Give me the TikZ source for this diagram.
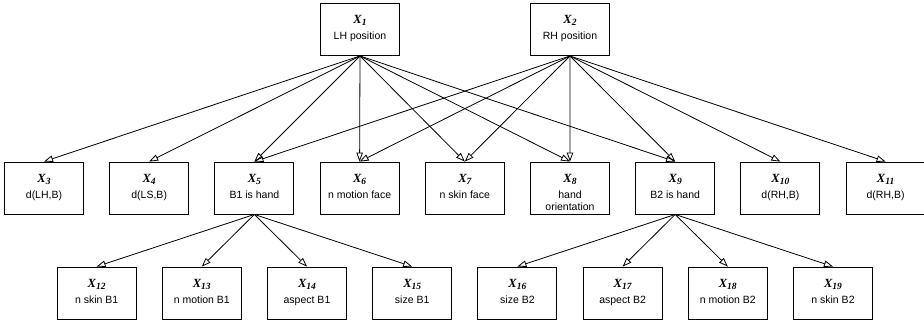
\documentclass[tikz,border=0pt]{standalone}
\usepackage{fontspec}
\setmainfont{Liberation Sans}
\newfontfamily\idfont{Liberation Serif}
\usetikzlibrary{arrows.meta}

% variable name X_i, bold italic serif
\newcommand{\xid}[1]{{\idfont\bfseries\itshape\fontsize{12.5}{13}\selectfont X\raisebox{-0.35ex}{\fontsize{9.5}{10}\selectfont #1}}}
% box content: name on top, description below
\newcommand{\varcell}[2]{\begin{tabular}[t]{@{}c@{}}\xid{#1}\\[4pt]#2\end{tabular}}

\begin{document}
\begin{tikzpicture}[x=1pt, y=-1pt,
  varbox/.style={draw, line width=.9pt, minimum width=79pt, inner xsep=2pt, inner ysep=0pt,
    text height=20pt, text depth=32pt, font=\fontsize{10.5}{12}\selectfont},
  edge/.style={line width=.8pt, -{Triangle[open,length=9pt,width=6.5pt]}}]
\useasboundingbox (0,0) rectangle (924,322);

% parents
\node[varbox] (x1) at (360,29.5) {\varcell{1}{LH position}};
\node[varbox] (x2) at (570,29.5) {\varcell{2}{RH position}};

% middle row
\foreach \n/\lbl [count=\k from 0] in {3/{d(LH,B)}, 4/{d(LS,B)}, 5/{B1 is hand},
    6/{n motion face}, 7/{n skin face}, 8/{hand\\orientation}, 9/{B2 is hand},
    10/{d(RH,B)}, 11/{d(RH,B)}}
  \node[varbox] (x\n) at ({44+\k*105.2},188) {\varcell{\n}{\lbl}};

% bottom row
\foreach \n/\lbl [count=\k from 0] in {12/{n skin B1}, 13/{n motion B1}, 14/{aspect B1},
    15/{size B1}, 16/{size B2}, 17/{aspect B2}, 18/{n motion B2}, 19/{n skin B2}}
  \node[varbox] (x\n) at ({96.6+\k*105.2},293) {\varcell{\n}{\lbl}};

% edges
\foreach \c in {3,...,9}
  \draw[edge] (x1.south) -- (x\c.north);
\foreach \c in {5,...,11}
  \draw[edge] (x2.south) -- (x\c.north);
\foreach \c in {12,...,15}
  \draw[edge] (x5.south) -- (x\c.north);
\foreach \c in {16,...,19}
  \draw[edge] (x9.south) -- (x\c.north);
\end{tikzpicture}
\end{document}
